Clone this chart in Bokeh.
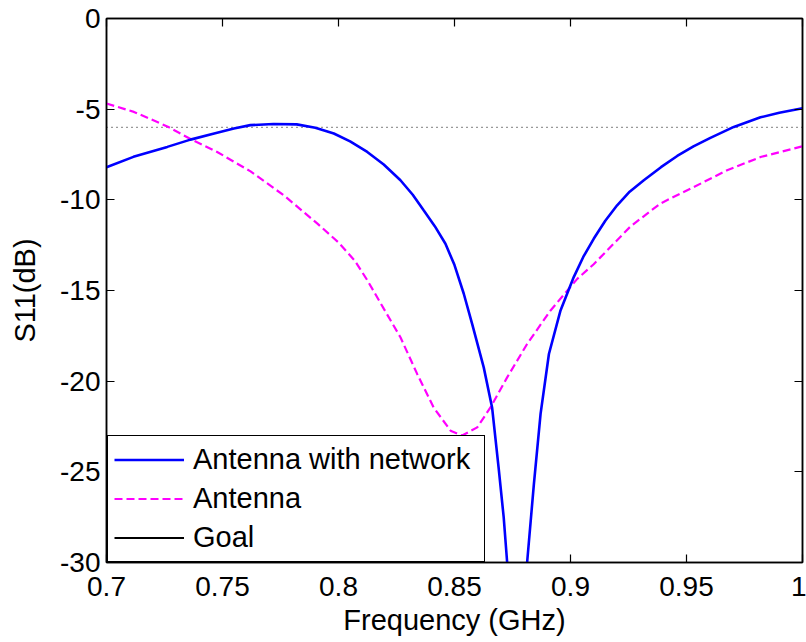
import numpy as np
from bokeh.plotting import figure
from bokeh.models import (FixedTicker, LinearAxis, Legend, LegendItem, Range1d,
                          CustomJSTickFormatter)
from bokeh.embed import file_html
from bokeh.resources import INLINE

# ---- data ----
freq_net = [0.700, 0.7116, 0.7262, 0.7362, 0.7460, 0.7549, 0.762, 0.772, 0.782,
            0.790, 0.798, 0.805, 0.8124, 0.8195, 0.8267, 0.832, 0.8367, 0.8415,
            0.8461, 0.850, 0.854, 0.8576, 0.8626, 0.8662, 0.869, 0.8712,
            0.8727, 0.8745, 0.877, 0.8795, 0.8813, 0.8842, 0.8871, 0.8907,
            0.8957, 0.9014, 0.9055, 0.910, 0.9150, 0.9201, 0.9255, 0.9316,
            0.939, 0.946, 0.953, 0.9603, 0.9704, 0.9819, 0.990, 1.000]
s11_net = [-8.2, -7.63, -7.08, -6.68, -6.35, -6.07, -5.88, -5.82, -5.84,
           -6.02, -6.34, -6.78, -7.36, -8.05, -8.92, -9.72, -10.58, -11.45,
           -12.42, -13.6, -15.18, -16.84, -19.24, -21.45, -24.76, -27.5,
           -30.0, -33.0, -36.0, -33.0, -30.0, -25.7, -21.8, -18.5,
           -16.1, -14.26, -13.15, -12.15, -11.15, -10.3, -9.55, -8.92,
           -8.2, -7.58, -7.05, -6.58, -5.98, -5.45, -5.2, -4.95]

freq_ant = [0.700, 0.7118, 0.7262, 0.7362, 0.7477, 0.7621, 0.7764, 0.7908,
            0.8000, 0.8070, 0.8125, 0.8195, 0.8267, 0.8339, 0.841, 0.8483,
            0.8533, 0.8598, 0.8655, 0.8727, 0.8813, 0.8914, 0.9029, 0.910,
            0.9158, 0.926, 0.9388, 0.9532, 0.9675, 0.9819, 1.000]
s11_ant = [-4.69, -5.15, -5.95, -6.65, -7.36, -8.43, -9.75, -11.3,
           -12.35, -13.35, -14.45, -16.0, -17.58, -19.6, -21.45, -22.73,
           -23.0, -22.55, -21.45, -19.79, -17.95, -16.1, -14.36, -13.55,
           -12.79, -11.45, -10.2, -9.29, -8.37, -7.64, -7.05]

goal_freq = [0.7, 1.0]
goal_s11 = [-6, -6]

x_ticks = [0.7, 0.75, 0.8, 0.85, 0.9, 0.95, 1.0]
x_tick_labels = ["0.7", "0.75", "0.8", "0.85", "0.9", "0.95", "1"]
y_ticks = [0, -5, -10, -15, -20, -25, -30]
y_tick_labels = ["0", "-5", "-10", "-15", "-20", "-25", "-30"]

FONT = "Liberation Sans"
FS = "28px"
FS_LAB = "29px"

p = figure(width=806, height=642, output_backend="svg", toolbar_location=None,
           x_range=Range1d(0.7, 1.0), y_range=Range1d(-30, 0),
           min_border_left=106, min_border_right=4, min_border_top=18,
           min_border_bottom=80)
p.background_fill_color = "white"
p.border_fill_color = "white"
p.outline_line_color = "black"
p.outline_line_width = 1.5
p.xgrid.visible = False
p.ygrid.visible = False

def style_axis(ax):
    ax.major_tick_in = 8
    ax.major_tick_out = 0
    ax.minor_tick_line_color = None
    ax.axis_line_color = "black"
    ax.axis_line_width = 1.5
    ax.major_tick_line_color = "black"
    ax.major_tick_line_width = 1.2
    ax.major_label_text_font = FONT
    ax.major_label_text_font_size = FS
    ax.major_label_text_color = "black"
    ax.axis_label_text_font = FONT
    ax.axis_label_text_font_size = FS_LAB
    ax.axis_label_text_font_style = "normal"
    ax.axis_label_text_color = "black"

xa = p.xaxis[0]
ya = p.yaxis[0]
xa.ticker = FixedTicker(ticks=x_ticks)
ya.ticker = FixedTicker(ticks=y_ticks)
xa.major_label_overrides = dict(zip(x_ticks, x_tick_labels))
ya.major_label_overrides = dict(zip(y_ticks, y_tick_labels))
xa.axis_label = "Frequency (GHz)"
ya.axis_label = "S11(dB)"
style_axis(xa)
style_axis(ya)
xa.major_label_standoff = 14
xa.axis_label_standoff = 5
ya.major_label_standoff = 6
ya.axis_label_standoff = 16

empty_fmt = CustomJSTickFormatter(code="return ''")
top = LinearAxis(ticker=FixedTicker(ticks=x_ticks), formatter=empty_fmt)
right = LinearAxis(ticker=FixedTicker(ticks=y_ticks), formatter=empty_fmt)
for ax in (top, right):
    style_axis(ax)
    ax.major_label_standoff = 0
    ax.major_label_text_font_size = "1px"
p.add_layout(top, "above")
p.add_layout(right, "right")

r_goal_dot = p.line(goal_freq, goal_s11, line_color="#333333", line_width=1.2,
                    line_dash="1 4")
r_ant = p.line(freq_ant, s11_ant, line_color="#ff00ff", line_width=2.2,
               line_dash="8 4")
r_net = p.line(freq_net, s11_net, line_color="#0000ff", line_width=2.6)
r_goal_leg = p.line([np.nan], [np.nan], line_color="black", line_width=2)

legend = Legend(items=[
    LegendItem(label="Antenna with network", renderers=[r_net]),
    LegendItem(label="Antenna", renderers=[r_ant]),
    LegendItem(label="Goal", renderers=[r_goal_leg]),
], location=(1, 0))
legend.label_text_font = FONT
legend.label_text_font_size = FS_LAB
legend.label_text_color = "black"
legend.padding = 6
legend.spacing = 4
legend.margin = 0
legend.glyph_width = 70
legend.glyph_height = 35
legend.label_height = 35
legend.label_width = 285
legend.label_standoff = 9
legend.border_line_color = "black"
legend.border_line_width = 1.5
legend.border_line_alpha = 1
legend.background_fill_color = "white"
legend.background_fill_alpha = 1
p.add_layout(legend, "center")

open("out.html", "w").write(file_html(p, INLINE))
